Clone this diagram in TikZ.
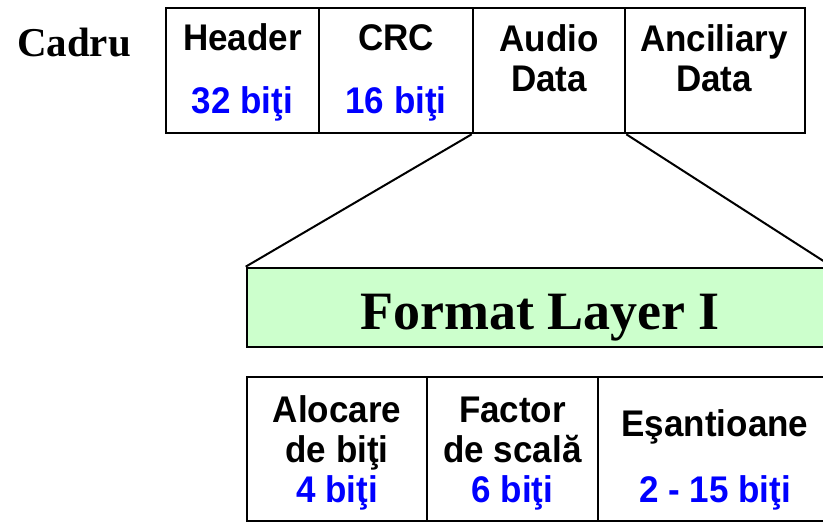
\documentclass[tikz,border=0pt]{standalone}
\usepackage{fontspec}
\setmainfont{Liberation Serif}
\setsansfont{Liberation Sans}
\definecolor{bitblue}{RGB}{0,0,255}
\definecolor{layergreen}{RGB}{204,255,204}
\begin{document}
\begin{tikzpicture}[x=1pt,y=1pt,
  cell/.style={draw=black, line width=2.6pt, inner sep=0pt},
  lbl/.style={font=\sffamily\bfseries\fontsize{35}{35}\selectfont, anchor=base, inner sep=0pt, yscale=1.06},
  bits/.style={lbl, text=bitblue},
  link/.style={line width=2pt}]
\useasboundingbox (0,0) rectangle (823,524);
\clip (0,0) rectangle (823,524);

% frame fields
\node[cell, minimum width=153, minimum height=125] (hdr) at (242.5,453.5) {};
\node[cell, minimum width=154, minimum height=125] (crc) at (396,453.5) {};
\node[cell, minimum width=152, minimum height=125] (aud) at (549,453.5) {};
\node[cell, minimum width=180, minimum height=125] (anc) at (715,453.5) {};

\node[font=\bfseries\fontsize{41}{41}\selectfont, anchor=base, inner sep=0pt] (cadru) at (74,467) {Cadru};

\node[lbl] (hdrT) at (242.5,473) {Header};
\node[bits] (hdrB) at (242.5,410) {32 biţi};
\node[lbl] (crcT) at (396,473) {CRC};
\node[bits] (crcB) at (396,410) {16 biţi};
\node[lbl] (audT) at (549,472) {Audio};
\node[lbl] (audB) at (549,432) {Data};
\node[lbl] (ancT) at (714,472) {Anciliary};
\node[lbl] (ancB) at (714,432) {Data};

% layer banner
\node[cell, fill=layergreen, minimum width=584, minimum height=79] (fmt) at (539,216.5) {};
\node[font=\bfseries\fontsize{54}{54}\selectfont, anchor=base, inner sep=0pt] (fmtT) at (540,194) {Format Layer I};

\draw[link] (aud.south west) -- (fmt.north west);
\draw[link] (aud.south east) -- (fmt.north east);

% audio data fields
\node[cell, minimum width=180, minimum height=144] (alo) at (337,75) {};
\node[cell, minimum width=171, minimum height=144] (fac) at (512.5,75) {};
\node[cell, minimum width=233, minimum height=144] (esa) at (714.5,75) {};

\node[lbl] (aloT) at (337,101) {Alocare};
\node[lbl] (aloM) at (337,61) {de biţi};
\node[bits] (aloB) at (337,21) {4 biţi};
\node[lbl] (facT) at (512.5,101) {Factor};
\node[lbl] (facM) at (512.5,61) {de scală};
\node[bits] (facB) at (512.5,21) {6 biţi};
\node[lbl] (esaT) at (715,87) {Eşantioane};
\node[bits] (esaB) at (715,21) {2 - 15 biţi};
\end{tikzpicture}
\end{document}
